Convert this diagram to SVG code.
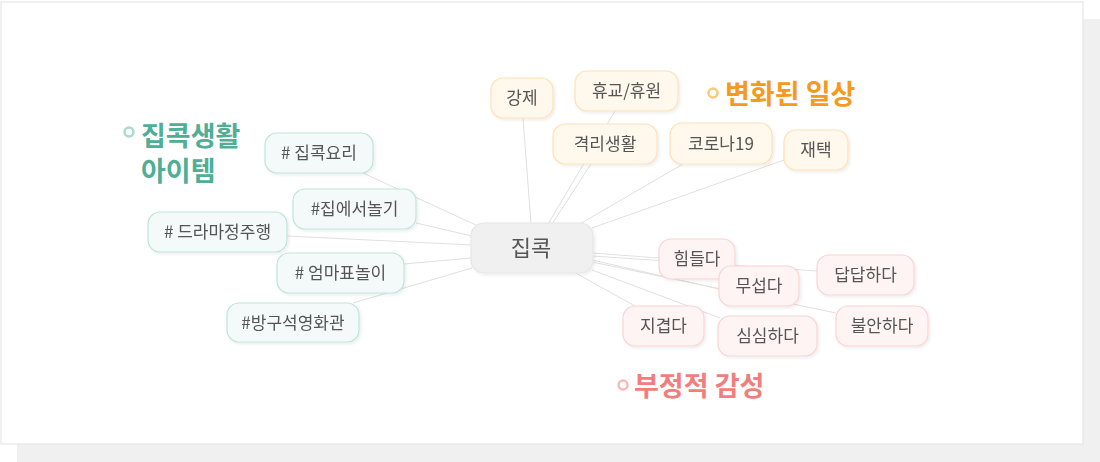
<svg xmlns="http://www.w3.org/2000/svg" width="1100" height="462" viewBox="0 0 1100 462">
<defs>
<filter id="sh" x="-20%" y="-20%" width="140%" height="150%">
<feDropShadow dx="1.5" dy="1.5" stdDeviation="1.5" flood-color="#000" flood-opacity="0.08"/>
</filter>
<style>
.t{font-family:"Noto Sans CJK KR","Noto Sans",sans-serif;fill:#555;font-size:17px;text-anchor:middle}
.g rect{fill:#f4faf9;stroke:#bfe5da;stroke-width:1.2}
.o rect{fill:#fff8ec;stroke:#fde2b6;stroke-width:1.2}
.p rect{fill:#fff4f4;stroke:#fad4d4;stroke-width:1.2}
.n{filter:url(#sh)}
.ttl{font-family:"Noto Sans CJK KR","Noto Sans",sans-serif;font-size:27px;font-weight:bold}
#links line{stroke:#e0e0e0;stroke-width:1}
</style>
</defs>
<rect x="17" y="19" width="1083" height="443" fill="#f0f0f0"/>
<rect x="1" y="2" width="1082" height="442" fill="#fff" stroke="#e6e6e6" stroke-width="1.2"/>

<g id="links">
<line x1="363" y1="173" x2="478" y2="226"/>
<line x1="416" y1="223" x2="472" y2="236"/>
<line x1="287" y1="236" x2="472" y2="245"/>
<line x1="404" y1="264" x2="472" y2="258"/>
<line x1="353" y1="303" x2="472" y2="268"/>
<line x1="523" y1="118" x2="531" y2="224"/>
<line x1="615" y1="111" x2="548" y2="224"/>
<line x1="591" y1="164" x2="552" y2="224"/>
<line x1="683" y1="164" x2="578" y2="225"/>
<line x1="784" y1="160" x2="592" y2="228"/>
<line x1="592" y1="253" x2="659" y2="258"/>
<line x1="592" y1="256" x2="817" y2="271"/>
<line x1="592" y1="260" x2="719" y2="289"/>
<line x1="592" y1="262" x2="836" y2="313"/>
<line x1="592" y1="270" x2="720" y2="318"/>
<line x1="572" y1="271" x2="635" y2="306"/>
</g>

<g id="center" class="n">
<rect x="471" y="223" width="122" height="50" rx="13" fill="#f0f0f0" stroke="#e6e6e6" stroke-width="1.2"/>
<text class="t" x="531" y="256" style="font-size:22px">집콕</text>
</g>

<g id="title-green">
<circle cx="129" cy="132" r="4.5" fill="none" stroke="#a6dccb" stroke-width="2.5"/>
<text class="ttl" x="141" y="146" fill="#4fae94">집콕생활</text>
<text class="ttl" x="141" y="181" fill="#4fae94">아이템</text>
</g>
<g id="title-orange">
<circle cx="713" cy="93" r="4.5" fill="none" stroke="#fcc97a" stroke-width="2.5"/>
<text class="ttl" x="725" y="104" fill="#f59a1b">변화된 일상</text>
</g>
<g id="title-pink">
<circle cx="623" cy="385" r="4.5" fill="none" stroke="#f9b9b9" stroke-width="2.5"/>
<text class="ttl" x="634" y="396" fill="#f27d7d">부정적 감성</text>
</g>

<g id="n-jipkokyori" class="n g"><rect x="265" y="133" width="108" height="40" rx="12"/><text class="t" x="319" y="159">#  집콕요리</text></g>
<g id="n-jipeseo" class="n g"><rect x="293" y="189" width="123" height="40" rx="12"/><text class="t" x="354.5" y="215">#집에서놀기</text></g>
<g id="n-drama" class="n g"><rect x="148" y="212" width="139" height="40" rx="12"/><text class="t" x="217.5" y="238">#  드라마정주행</text></g>
<g id="n-eomma" class="n g"><rect x="277" y="253" width="127" height="40" rx="12"/><text class="t" x="340.5" y="279">#  엄마표놀이</text></g>
<g id="n-banggu" class="n g"><rect x="227" y="303" width="132" height="39" rx="12"/><text class="t" x="293" y="328.5">#방구석영화관</text></g>

<g id="n-gangje" class="n o"><rect x="491" y="78" width="62" height="40" rx="12"/><text class="t" x="522" y="104">강제</text></g>
<g id="n-hyugyo" class="n o"><rect x="575" y="71" width="103" height="40" rx="12"/><text class="t" x="626.5" y="97">휴교/휴원</text></g>
<g id="n-gyeokri" class="n o"><rect x="553" y="124" width="104" height="40" rx="12"/><text class="t" x="605" y="150">격리생활</text></g>
<g id="n-corona" class="n o"><rect x="670" y="123" width="102" height="41" rx="12"/><text class="t" x="721" y="149.5">코로나19</text></g>
<g id="n-jaetaek" class="n o"><rect x="784" y="130" width="64" height="40" rx="12"/><text class="t" x="816" y="156">재택</text></g>

<g id="n-himdeulda" class="n p"><rect x="659" y="239" width="76" height="40" rx="12"/><text class="t" x="697" y="265">힘들다</text></g>
<g id="n-dapdap" class="n p"><rect x="817" y="255" width="97" height="40" rx="12"/><text class="t" x="865.5" y="281">답답하다</text></g>
<g id="n-museopda" class="n p"><rect x="719" y="266" width="80" height="40" rx="12"/><text class="t" x="759" y="292">무섭다</text></g>
<g id="n-jigyeopda" class="n p"><rect x="623" y="306" width="81" height="40" rx="12"/><text class="t" x="663.5" y="332">지겹다</text></g>
<g id="n-bulan" class="n p"><rect x="836" y="306" width="92" height="40" rx="12"/><text class="t" x="882" y="332">불안하다</text></g>
<g id="n-simsim" class="n p"><rect x="718" y="316" width="99" height="40" rx="12"/><text class="t" x="767.5" y="342">심심하다</text></g>
</svg>
